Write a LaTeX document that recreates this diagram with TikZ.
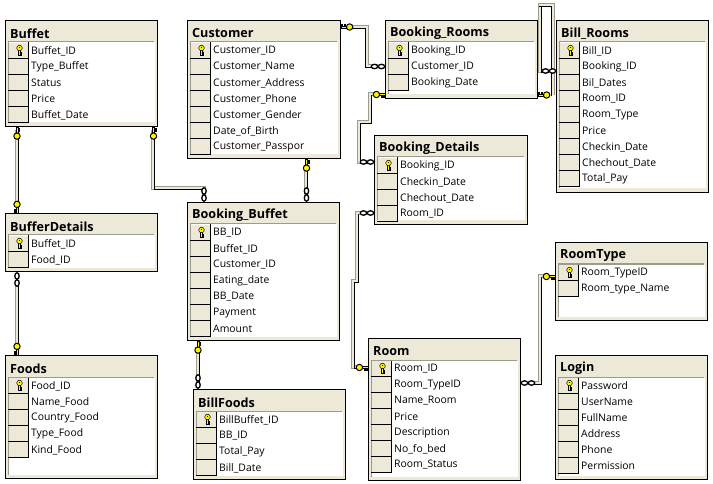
\documentclass[tikz,border=0pt]{standalone}
\usepackage{fontspec}
\setmainfont{Open Sans}
\definecolor{panel}{HTML}{ECE9D8}
\definecolor{edgegray}{HTML}{9D9B8E}
\definecolor{keygold}{HTML}{FFF200}
\tikzset{
  tablebox/.style={draw=black,line width=1pt,fill=panel,rectangle,inner sep=0pt,anchor=north west},
  titletext/.style={anchor=west,inner sep=0pt,font=\fontsize{12.6}{14}\selectfont\bfseries},
  rowtext/.style={anchor=west,inner sep=0pt,font=\fontsize{10.4}{13}\selectfont},
  linkouter/.style={draw=edgegray,line width=4.6pt,line join=miter},
  linkinner/.style={draw=panel,line width=2.8pt,line join=miter},
  linkdark/.style={draw=black,line width=1.1pt},
  keypart/.style={fill=keygold,draw=black,line width=.5pt},
  rowkey/.pic={
    \filldraw[keypart] (-1,0) rectangle (1,5.5);
    \filldraw[keypart] (1,2.6) rectangle (2.2,3.6);
    \filldraw[keypart] (1,4.5) rectangle (2.2,5.5);
    \filldraw[keypart] (0,-2) circle (2.8);
    \fill[black] (0,-2.6) circle (.6);
  },
  linkkey/.pic={
    \filldraw[keypart] (5.5,-1.1) rectangle (12,1.1);
    \filldraw[keypart] (8,1.1) rectangle (9,2.4);
    \filldraw[keypart] (10.6,1.1) rectangle (11.6,2.4);
    \filldraw[keypart,line width=1pt] (3.4,0) circle (3.2);
  },
  linkchain/.pic={
    \filldraw[fill=white,draw=black,line width=1.3pt] (3.5,0) ellipse (3.2 and 2.2);
    \filldraw[fill=white,draw=black,line width=1.3pt] (10.5,0) ellipse (3.2 and 2.2);
  }
}
% name, x, y, w, h, title, rows (first carries the key)
\newcommand{\erdtable}[7]{
  \node[tablebox,minimum width=#4pt,minimum height=#5pt] (#1) at (#2,#3) {};
  \fill[white] (#2+3.5,#3+22.5) rectangle (#2+#4-2.5,#3+#5-3.5);
  \draw[edgegray,line width=1pt] (#2+3,#3+22) -- (#2+#4-3,#3+22);
  \draw[edgegray,line width=1pt] (#2+3.5,#3+22) -- (#2+3.5,#3+#5-3.5);
  \node[titletext] (#1-title) at (#2+5,#3+13.5) {#6};
  \foreach \rowtxt [count=\rowi] in {#7} {
    \pgfmathsetmacro{\rowtop}{#3+22+16*(\rowi-1)}
    \fill[panel] (#2+4,\rowtop+1) rectangle (#2+23,\rowtop+16);
    \draw[black,line width=1pt] (#2+3,\rowtop+16.5) -- (#2+23.5,\rowtop+16.5);
    \draw[black,line width=1pt] (#2+23.5,\rowtop+.5) -- (#2+23.5,\rowtop+16.5);
    \node[rowtext] (#1-r\rowi) at (#2+26,\rowtop+9) {\rowtxt};
    \ifnum\rowi=1 \pic at (#2+14.5,\rowtop+8) {rowkey}; \fi
  }
}
\newcommand{\linkbody}[1]{\draw[linkouter] #1; \draw[linkinner] #1;}
\newcommand{\linkdarkline}[3]{\draw[linkdark,transform canvas={shift={(#1,#2)}}] #3;}
\begin{document}
\begin{tikzpicture}[x=1pt,y=-1pt]
\useasboundingbox (0,0) rectangle (713,484);
\fill[white] (0,0) rectangle (713,484);

% named link points
\coordinate (buffetDown) at (17,130);
\coordinate (detailsUp) at (17,205);
\coordinate (detailsDown) at (17,280);
\coordinate (foodsUp) at (17,347);
\coordinate (buffetRight) at (153,130);
\coordinate (bbCorner) at (153,188);
\coordinate (bbTopA) at (204,188);
\coordinate (bbTopAend) at (204,195);
\coordinate (custDown) at (306,165);
\coordinate (bbTopB) at (306,195);
\coordinate (custRight) at (350,27);
\coordinate (custCorner) at (367,27);
\coordinate (custCornerB) at (367,66);
\coordinate (brLeft) at (378,66);
\coordinate (brKeyB) at (376,94);
\coordinate (brB1) at (370,94);
\coordinate (brB2) at (370,122);
\coordinate (brB3) at (359,122);
\coordinate (brB4) at (359,162);
\coordinate (bdLeft) at (367,162);
\coordinate (loopA) at (553,95);
\coordinate (loopB) at (553,5);
\coordinate (loopC) at (540,5);
\coordinate (loopD) at (540,71);
\coordinate (loopE) at (548,71);
\coordinate (bdRoom) at (367,213);
\coordinate (rm1) at (357,213);
\coordinate (rm2) at (357,281);
\coordinate (rm3) at (353,281);
\coordinate (rm4) at (353,367);
\coordinate (rm5) at (360,367);
\coordinate (roomRight) at (528,383);
\coordinate (rt1) at (540,383);
\coordinate (rt2) at (540,276);
\coordinate (rt3) at (548,276);
\coordinate (bbDown) at (198,350);
\coordinate (bfUp) at (198,382);

% relationship lines
\linkbody{(buffetDown) -- (detailsUp)}
\linkdarkline{1.4}{0}{(buffetDown) -- (detailsUp)}
\linkbody{(detailsDown) -- (foodsUp)}
\linkdarkline{1.4}{0}{(detailsDown) -- (foodsUp)}
\linkbody{(buffetRight) -- (bbCorner) -- (bbTopA) -- (bbTopAend)}
\linkdarkline{1.4}{1.4}{(buffetRight) -- (bbCorner) -- (bbTopA)}
\linkbody{(custDown) -- (bbTopB)}
\linkdarkline{1.4}{0}{(custDown) -- (bbTopB)}
\linkbody{(custRight) -- (custCorner) -- (custCornerB) -- (brLeft)}
\linkdarkline{-1.4}{1.4}{(custRight) -- (custCorner) -- (custCornerB) -- (brLeft)}
\linkbody{(brKeyB) -- (brB1) -- (brB2) -- (brB3) -- (brB4) -- (bdLeft)}
\linkdarkline{1.4}{1.4}{(brB1) -- (brB2) -- (brB3) -- (brB4) -- (bdLeft)}
\linkbody{(loopA) -- (loopB) -- (loopC) -- (loopD) -- (loopE)}
\linkdarkline{-1.4}{1.4}{(loopA) -- (loopB) -- (loopC)}
\linkdarkline{1.4}{1.4}{(loopC) -- (loopD) -- (loopE)}
\linkbody{(bdRoom) -- (rm1) -- (rm2) -- (rm3) -- (rm4) -- (rm5)}
\linkdarkline{1.4}{1.4}{(rm1) -- (rm2) -- (rm3) -- (rm4) -- (rm5)}
\linkbody{(roomRight) -- (rt1) -- (rt2) -- (rt3)}
\linkdarkline{1.4}{1.4}{(roomRight) -- (rt1) -- (rt2)}
\linkbody{(bbDown) -- (bfUp)}
\linkdarkline{1.4}{0}{(bbDown) -- (bfUp)}

% tables
\erdtable{Buffet}{5}{20}{152}{106}{Buffet}{Buffet\_ID,Type\_Buffet,Status,Price,Buffet\_Date}
\erdtable{Customer}{187}{20}{153}{138}{Customer}{Customer\_ID,Customer\_Name,Customer\_Address,Customer\_Phone,Customer\_Gender,Date\_of\_Birth,Customer\_Passpor}
\erdtable{BookingRooms}{385}{20}{152}{78}{Booking\_Rooms}{Booking\_ID,Customer\_ID,Booking\_Date}
\erdtable{BillRooms}{556}{20}{152}{172}{Bill\_Rooms}{Bill\_ID,Booking\_ID,Bil\_Dates,Room\_ID,Room\_Type,Price,Checkin\_Date,Chechout\_Date,Total\_Pay}
\erdtable{BookingDetails}{374}{135}{153}{89}{Booking\_Details}{Booking\_ID,Checkin\_Date,Chechout\_Date,Room\_ID}
\erdtable{BookingBuffet}{187}{202}{152}{138}{Booking\_Buffet}{BB\_ID,Buffet\_ID,Customer\_ID,Eating\_date,BB\_Date,Payment,Amount}
\erdtable{BufferDetails}{5}{213}{152}{58}{BufferDetails}{Buffet\_ID,Food\_ID}
\erdtable{Foods}{5}{355}{152}{123}{Foods}{Food\_ID,Name\_Food,Country\_Food,Type\_Food,Kind\_Food}
\erdtable{BillFoods}{193}{389}{152}{90}{BillFoods}{BillBuffet\_ID,BB\_ID,Total\_Pay,Bill\_Date}
\erdtable{Room}{368}{338}{152}{142}{Room}{Room\_ID,Room\_TypeID,Name\_Room,Price,Description,No\_fo\_bed,Room\_Status}
\erdtable{RoomType}{555}{242}{152}{78}{RoomType}{Room\_TypeID,Room\_type\_Name}
\erdtable{Login}{555}{355}{152}{124}{Login}{Password,UserName,FullName,Address,Phone,Permission}

% link ends
\pic[rotate=90] at (17,139.5) {linkkey};
\pic[rotate=-90] at (17,201) {linkkey};
\pic[rotate=-90] at (17,343) {linkkey};
\pic[rotate=90] at (153.5,139.5) {linkkey};
\pic[rotate=90] at (306.5,171.5) {linkkey};
\pic[rotate=90] at (198,353.5) {linkkey};
\pic[rotate=180] at (353,27) {linkkey};
\pic at (373,94.5) {linkkey};
\pic[rotate=180] at (550,95) {linkkey};
\pic at (356,367.5) {linkkey};
\pic at (543,276.5) {linkkey};
\pic[rotate=-90] at (204,187.5) {linkchain};
\pic[rotate=-90] at (306.5,187.5) {linkchain};
\pic[rotate=90] at (17,286.5) {linkchain};
\pic[rotate=-90] at (198,374.5) {linkchain};
\pic at (371,66.5) {linkchain};
\pic at (360,162) {linkchain};
\pic at (542,71) {linkchain};
\pic at (360,213) {linkchain};
\pic[rotate=180] at (535,383) {linkchain};
\end{tikzpicture}
\end{document}
